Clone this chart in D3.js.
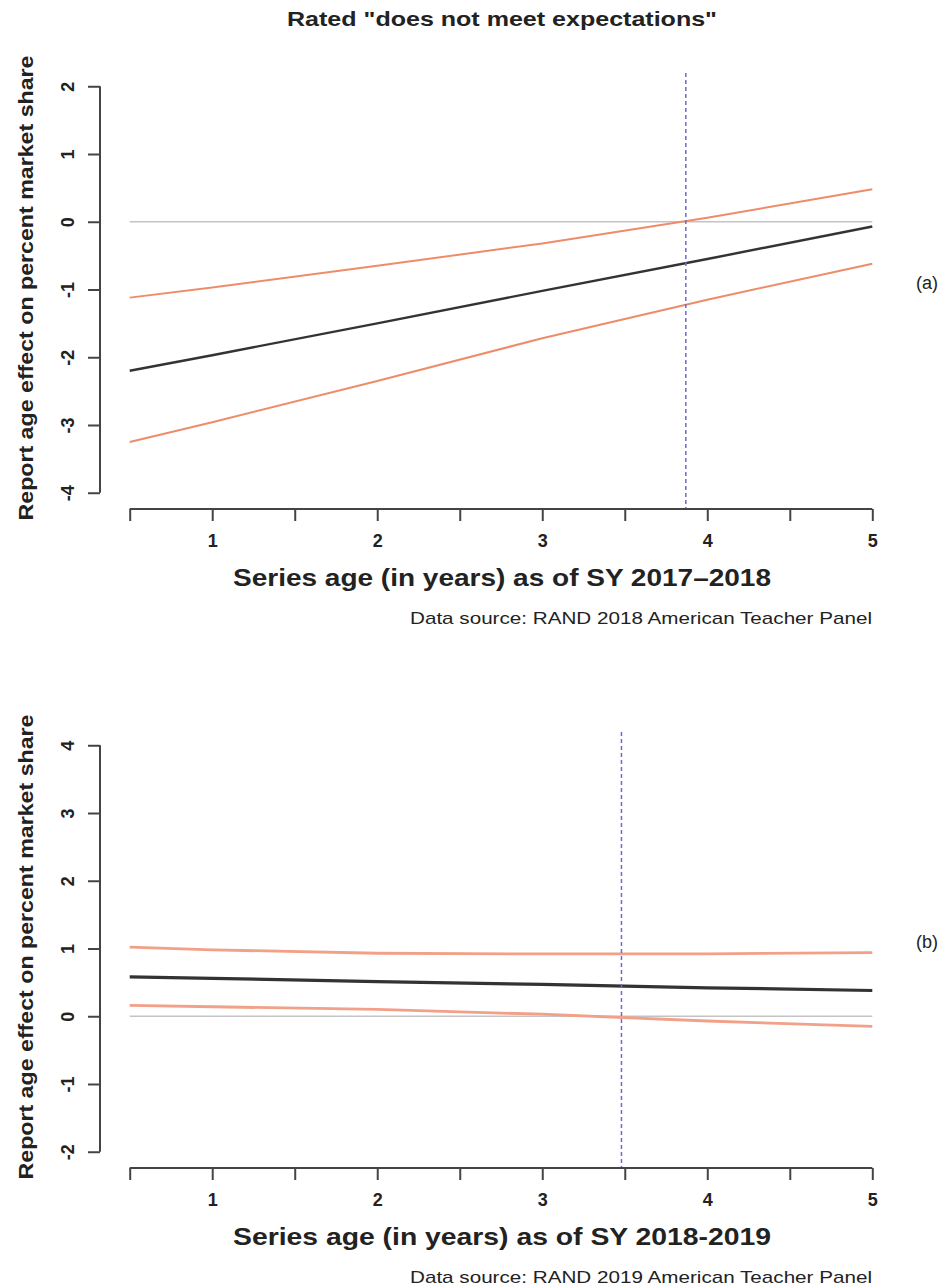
<!DOCTYPE html>
<html>
<head>
	<meta charset="utf-8">
	<title>age effect</title>
	<script type="text/javascript" src="https://cdn.jsdelivr.net/npm/d3@7"></script>
	<style type="text/css">
		body{ margin: 0; background: #fff; }
		text{ font-family: "Liberation Sans", Arial, sans-serif; fill: #222; }
		.bold{ font-weight: bold; }
	</style>
</head>
<body>
<svg width="951" height="1288"></svg>
<script type="text/javascript">
	// values
	var ages = [0.5, 1, 2, 3, 4, 5];
	var xTickLabels = [1, 2, 3, 4, 5];

	var estA = [-2.2, -1.97, -1.5, -1.02, -0.55, -0.07];
	var upperA = [-1.12, -0.97, -0.65, -0.32, 0.06, 0.48];
	var lowerA = [-3.25, -2.96, -2.35, -1.72, -1.15, -0.62];
	var cutA = 3.87;
	var yTicksA = [-4, -3, -2, -1, 0, 1, 2];

	var estB = [0.58, 0.56, 0.51, 0.47, 0.42, 0.38];
	var upperB = [1.02, 0.98, 0.93, 0.92, 0.92, 0.94];
	var lowerB = [0.16, 0.14, 0.10, 0.03, -0.07, -0.15];
	var cutB = 3.48;
	var yTicksB = [-2, -1, 0, 1, 2, 3, 4];

	var svg = d3.select("svg");

	var x = d3.scaleLinear().domain([0.32, 5.18]).range([100, 902]);

	// title
	svg.append("text").attr("class", "bold")
		.attr("x", 502).attr("y", 26)
		.attr("text-anchor", "middle")
		.attr("font-size", 21)
		.attr("textLength", 430).attr("lengthAdjust", "spacingAndGlyphs")
		.text('Rated "does not meet expectations"');

	function drawPanel(opt) {
		var y = d3.scaleLinear().domain([opt.yTicks[0] - 0.24, opt.yTicks[opt.yTicks.length - 1] + 0.24])
			.range([opt.bottom, opt.bottom - 439]);
		var g = svg.append("g");
		var lw = opt.lw;

		// zero reference
		g.append("line")
			.attr("x1", x(ages[0])).attr("x2", x(ages[ages.length - 1]))
			.attr("y1", y(0)).attr("y2", y(0))
			.attr("stroke", "#c4c4c4").attr("stroke-width", 1.5);

		var line = d3.line().x((d, i) => x(ages[i])).y((d) => y(d));
		var series = [
			{ v: opt.upper, color: opt.ci, w: lw },
			{ v: opt.lower, color: opt.ci, w: lw },
			{ v: opt.est, color: "#333", w: lw + 0.4 }
		];
		g.selectAll(".ser").data(series).enter().append("path").attr("class", "ser")
			.attr("fill", "none")
			.attr("stroke", (d) => d.color)
			.attr("stroke-width", (d) => d.w)
			.attr("d", (d) => line(d.v));

		// cut point
		g.append("line")
			.attr("x1", x(opt.cut)).attr("x2", x(opt.cut))
			.attr("y1", y.range()[1] + 3).attr("y2", y.range()[0])
			.attr("stroke", "#6a6ad0").attr("stroke-width", 1.5)
			.attr("stroke-dasharray", "4,3");

		// y axis
		var yAxis = d3.axisLeft(y).tickValues(opt.yTicks).tickSize(12).tickFormat((d) => String(d));
		var ya = g.append("g").attr("transform", "translate(100,0)").call(yAxis);
		ya.select(".domain").remove();
		ya.selectAll(".tick line").attr("stroke", "#444").attr("stroke-width", 2);
		ya.selectAll(".tick text")
			.attr("class", "bold").attr("font-size", 18).attr("fill", "#222")
			.attr("x", null).attr("dy", null)
			.attr("text-anchor", "middle")
			.attr("transform", "translate(-26,0) rotate(-90)");
		g.append("line")
			.attr("x1", 100).attr("x2", 100)
			.attr("y1", y(opt.yTicks[0])).attr("y2", y(opt.yTicks[opt.yTicks.length - 1]))
			.attr("stroke", "#444").attr("stroke-width", 2);

		// x axis
		var xAxis = d3.axisBottom(x).tickValues(d3.range(0.5, 5.01, 0.5)).tickSize(12)
			.tickFormat((d) => xTickLabels.indexOf(d) >= 0 ? d : "");
		var xa = g.append("g").attr("transform", `translate(0,${opt.bottom})`).call(xAxis);
		xa.select(".domain").remove();
		xa.selectAll(".tick line").attr("stroke", "#444").attr("stroke-width", 2);
		xa.selectAll(".tick text")
			.attr("class", "bold").attr("font-size", 18).attr("fill", "#222")
			.attr("y", 25).attr("dy", "0.71em");
		g.append("line")
			.attr("x1", x(0.5)).attr("x2", x(5))
			.attr("y1", opt.bottom).attr("y2", opt.bottom)
			.attr("stroke", "#444").attr("stroke-width", 2);

		// axis titles
		g.append("text").attr("class", "bold")
			.attr("text-anchor", "middle").attr("font-size", 21)
			.attr("textLength", 465).attr("lengthAdjust", "spacingAndGlyphs")
			.attr("transform", `translate(33,${opt.bottom - 221}) rotate(-90)`)
			.text("Report age effect on percent market share");
		g.append("text").attr("class", "bold")
			.attr("text-anchor", "middle").attr("font-size", 24)
			.attr("textLength", 538).attr("lengthAdjust", "spacingAndGlyphs")
			.attr("x", 502).attr("y", opt.bottom + 77)
			.text(opt.xTitle);
		g.append("text")
			.attr("text-anchor", "end").attr("font-size", 17).attr("fill", "#333")
			.attr("textLength", 462).attr("lengthAdjust", "spacingAndGlyphs")
			.attr("x", 872).attr("y", opt.bottom + 115)
			.text(opt.source);
		g.append("text")
			.attr("text-anchor", "start").attr("font-size", 18).attr("fill", "#333")
			.attr("x", 916).attr("y", opt.bottom - 220)
			.text(opt.tag);
	}

	drawPanel({ bottom: 509, est: estA, upper: upperA, lower: lowerA, cut: cutA, yTicks: yTicksA, lw: 2,
		ci: "#ee8c6a",
		xTitle: "Series age (in years) as of SY 2017\u20132018",
		source: "Data source: RAND 2018 American Teacher Panel", tag: "(a)" });
	drawPanel({ bottom: 1168, est: estB, upper: upperB, lower: lowerB, cut: cutB, yTicks: yTicksB, lw: 2.8,
		ci: "#f2a088",
		xTitle: "Series age (in years) as of SY 2018-2019",
		source: "Data source: RAND 2019 American Teacher Panel", tag: "(b)" });
</script>
</body>
</html>
